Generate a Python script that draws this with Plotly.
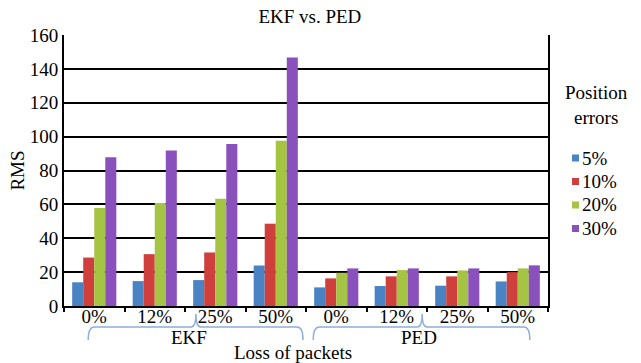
import plotly.graph_objects as go

categories = ["0%", "12%", "25%", "50%", "0%", "12%", "25%", "50%"]
groups = ["EKF", "PED"]
series = ["5%", "10%", "20%", "30%"]
values = {
    "5%":  [14.0, 14.7, 15.3, 23.9, 11.0, 11.8, 12.0, 14.5],
    "10%": [28.6, 30.6, 31.6, 48.6, 16.3, 17.5, 17.5, 20.0],
    "20%": [57.8, 60.8, 63.3, 97.6, 19.6, 21.2, 21.0, 22.2],
    "30%": [87.8, 91.8, 95.7, 146.7, 22.2, 22.2, 22.2, 24.0],
}
colors = ["#4A83C4", "#CF3F3B", "#A6C443", "#8A51BD"]
FONT = "Liberation Serif, Times New Roman, DejaVu Serif, serif"
FS = 19

x = list(range(len(categories)))
fig = go.Figure()
for s, c in zip(series, colors):
    fig.add_trace(go.Bar(x=x, y=values[s], name=s, marker=dict(color=c, line=dict(width=0)),
                         showlegend=False))

fig.update_layout(
    width=641, height=363,
    margin=dict(l=64, r=93, t=35, b=57),
    paper_bgcolor="white", plot_bgcolor="white",
    barmode="group", bargap=0.27, bargroupgap=0,
    font=dict(family=FONT, size=FS, color="black"),
    title=dict(text="EKF vs. PED", x=0.508, xref="paper", xanchor="center",
               y=1 - 16 / 363, yanchor="middle", font=dict(family=FONT, size=FS, color="black")),
)
fig.update_yaxes(range=[0, 160], dtick=20, showgrid=True, gridcolor="black", gridwidth=2,
                 showline=True, linecolor="black", linewidth=2, mirror=True,
                 ticks="", zeroline=False,
                 title=dict(text="RMS", standoff=0, font=dict(family=FONT, size=FS)),
                 tickfont=dict(family=FONT, size=FS))
fig.update_xaxes(range=[-0.5, len(categories) - 0.5], tickmode="array", tickvals=x, ticktext=categories,
                 ticks="", showgrid=False, showline=True, linecolor="black", linewidth=2,
                 zeroline=False, tickfont=dict(family=FONT, size=FS), ticklabelstandoff=-8,
                 minor=dict(tickmode="array", tickvals=[i - 0.5 for i in range(len(categories) + 1)],
                            ticks="outside", ticklen=4, tickwidth=2, tickcolor="black"))

# group braces and labels
ph = 271.0
def py(pix):
    return (306 - pix) / ph

brace_color = "#8EAFD8"
for (x0, xm, x1, gx), g in zip([(-0.1, 1.68, 3.45, 1.57), (3.62, 5.42, 7.2, 5.36)], groups):
    top = py(327)
    bot = py(340)
    notch = py(314)
    path = (f"M {x0},{bot} Q {x0},{top} {x0+0.1},{top} L {xm-0.08},{top} Q {xm},{top} {xm},{notch} "
            f"Q {xm},{top} {xm+0.08},{top} L {x1-0.1},{top} Q {x1},{top} {x1},{bot}")
    fig.add_shape(type="path", path=path, xref="x", yref="paper",
                  line=dict(color=brace_color, width=1.5))
    fig.add_annotation(x=gx, y=py(337), xref="x", yref="paper", text=g, showarrow=False,
                       font=dict(family=FONT, size=FS), xanchor="center", yanchor="middle")

fig.add_annotation(x=(293 - 64) / 484, y=py(352), xref="paper", yref="paper", text="Loss of packets",
                   showarrow=False, font=dict(family=FONT, size=FS), xanchor="center", yanchor="middle")

# legend (manual)
fig.add_annotation(x=(596 - 64) / 484, y=py(105), xref="paper", yref="paper",
                   text="Position<br>errors", showarrow=False, align="center",
                   font=dict(family=FONT, size=FS), xanchor="center", yanchor="middle")
for i, (s, c) in enumerate(zip(series, colors)):
    yc = 158 + i * 23.5
    fig.add_shape(type="rect", xref="paper", yref="paper",
                  x0=(572 - 64) / 484, x1=(579 - 64) / 484, y0=py(yc + 3.5), y1=py(yc - 3.5),
                  fillcolor=c, line=dict(width=0))
    fig.add_annotation(x=(580 - 64) / 484, y=py(yc), xref="paper", yref="paper", text=s,
                       showarrow=False, xanchor="left", yanchor="middle",
                       font=dict(family=FONT, size=FS))

fig.write_html("out.html", config={"displayModeBar": False},
               post_script="document.body.style.margin='0px';document.body.style.overflow='hidden';")
